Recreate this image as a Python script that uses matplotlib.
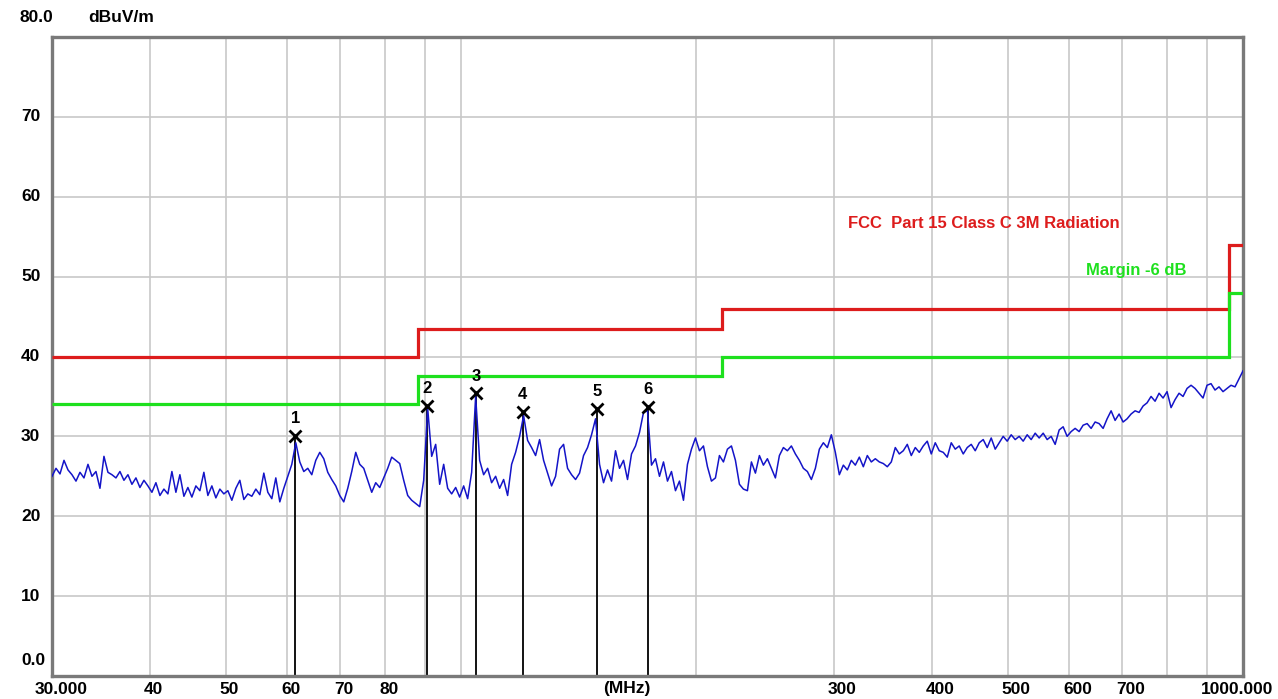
import numpy as np
import matplotlib
matplotlib.use("Agg")
import matplotlib.pyplot as plt
from matplotlib.transforms import offset_copy, blended_transform_factory

plt.rcParams['font.family'] = ['Liberation Sans', 'DejaVu Sans']
plt.rcParams['font.weight'] = 'bold'

f_start, f_stop = 30.0, 1000.0
level = [
    25.0, 26.0, 25.3, 27.0, 25.8, 25.2, 24.4, 25.5, 24.8, 26.5, 25.0, 25.6,
    23.5, 27.5, 25.5, 25.2, 24.8, 25.6, 24.5, 25.2, 24.0, 24.8, 23.6, 24.5,
    23.8, 23.0, 24.2, 22.6, 23.4, 22.8, 25.6, 23.0, 25.2, 22.5, 23.6, 22.4, 23.8,
    23.2, 25.5, 22.6, 23.8, 22.3, 23.4, 22.8, 23.2, 22.0, 23.5, 24.5, 22.1, 22.8,
    22.5, 23.4, 22.7, 25.4, 23.0, 22.2, 24.8, 21.8, 23.5, 25.0, 26.5, 29.2,
    26.8, 25.6, 26.0, 25.2, 27.0, 28.0, 27.2, 25.5, 24.6, 23.8, 22.6, 21.8,
    23.5, 25.6, 28.0, 26.5, 26.0, 24.5, 23.0, 24.2, 23.6, 24.8, 26.0, 27.4,
    27.0, 26.6, 24.5, 22.6, 22.0, 21.6, 21.2, 24.5, 33.5, 27.5, 29.0, 24.0,
    26.5, 23.5, 22.8, 23.6, 22.4, 23.8, 22.2, 25.5, 35.0, 27.0, 25.2, 26.0,
    24.2, 25.0, 23.5, 24.6, 22.6, 26.5, 28.0, 30.0, 32.6, 29.5, 28.6,
    27.6, 29.6, 27.0, 25.4, 23.8, 25.0, 28.4, 29.0, 26.0, 25.2, 24.6, 25.4,
    27.6, 28.6, 30.2, 32.2, 26.5, 24.2, 25.8, 24.4, 28.2, 26.0, 27.0, 24.6,
    27.8, 28.8, 30.5, 33.0, 33.2, 26.4, 27.2, 25.0, 26.8, 24.4, 25.6, 23.2,
    24.4, 22.0, 26.5, 28.4, 29.8, 28.2, 28.8, 26.2, 24.4, 24.8, 27.6, 26.8,
    28.4, 28.8, 27.0, 24.0, 23.4, 23.2, 26.8, 25.4, 27.6, 26.4, 27.2,
    26.0, 24.8, 27.6, 28.6, 28.2, 28.8, 27.8, 27.0, 26.0, 25.6, 24.6, 26.0,
    28.4, 29.2, 28.6, 30.2, 28.0, 25.2, 26.4, 25.8, 27.0, 26.4, 27.4, 26.2,
    27.6, 26.8, 27.2, 26.8, 26.6, 26.2, 26.8, 28.6, 27.8, 28.2, 29.0, 27.6,
    28.6, 28.0, 28.8, 29.4, 27.8, 29.2, 28.2, 28.0, 27.4, 29.2, 28.4, 28.8,
    27.8, 28.6, 29.0, 28.2, 29.2, 29.6, 28.6, 29.8, 28.4, 29.2, 30.0, 29.4, 30.2,
    29.6, 30.0, 29.4, 30.2, 29.6, 30.4, 29.8, 30.4, 29.6, 30.0, 29.0, 30.8,
    31.2, 30.0, 30.6, 31.0, 30.6, 31.4, 31.6, 31.0, 31.8, 31.6, 31.0, 32.2,
    33.2, 32.0, 32.8, 31.8, 32.2, 32.8, 33.2, 33.0, 33.8, 34.2, 35.0, 34.4,
    35.4, 34.8, 35.6, 33.6, 34.6, 35.4, 35.0, 36.0, 36.4, 36.0, 35.4, 34.8,
    36.4, 36.6, 35.8, 36.2, 35.6, 36.0, 36.4, 36.2, 37.2, 38.2,
]

# limit line (FCC Part 15 class, 3 m) and the -6 dB margin
limit_edges = [30, 88, 216, 960, 1000]
limit_fcc = [40.0, 43.5, 46.0, 54.0]
margin_db = 6.0

# marked peaks
peak_no = ['1', '2', '3', '4', '5', '6']
peak_freq = [61.4, 90.5, 104.6, 119.9, 149.2, 173.5]
peak_level = [30.1, 33.8, 35.4, 33.1, 33.4, 33.7]

xgrid = [40, 50, 60, 70, 80, 90, 100, 200, 300, 400, 500, 600, 700, 800, 900]
ygrid = [10, 20, 30, 40, 50, 60, 70]
xlabels = {40: '40', 50: '50', 60: '60', 70: '70', 80: '80',
           300: '300', 400: '400', 500: '500', 600: '600', 700: '700'}
ylabels = ['10', '20', '30', '40', '50', '60', '70']

freq = np.geomspace(f_start, f_stop, len(level))

fig = plt.figure(figsize=(12.78, 6.99), dpi=100)
ax = fig.add_axes([52/1278, 23/699, 1191/1278, 639/699])
ax.set_xscale('log')
ax.set_xlim(f_start, f_stop)
ax.set_ylim(0, 80)

for g in xgrid:
    ax.axvline(g, color='#c8c8c8', lw=1.2, zorder=0)
for g in ygrid:
    ax.axhline(g, color='#c8c8c8', lw=1.2, zorder=0)

ax.set_xticks([])
ax.set_yticks([])
ax.minorticks_off()
for s in ax.spines.values():
    s.set_color('#7a7a7a')
    s.set_linewidth(2.4)

red = '#dd1c1c'
green = '#1ee01e'
ax.stairs(limit_fcc, limit_edges, baseline=None, color=red, lw=2.3, zorder=3)
ax.stairs(np.array(limit_fcc) - margin_db, limit_edges, baseline=None,
          color=green, lw=2.3, zorder=3)

# peak markers: vertical line down to the axis, X and number
for f, lv in zip(peak_freq, peak_level):
    ax.plot([f, f], [0, lv], color='black', lw=1.3, zorder=2)

ax.plot(freq, level, color='#1414c8', lw=1.1, zorder=4)

ax.plot(peak_freq, peak_level, 'x', color='black', ms=9, mew=2, zorder=5)
for n, f, lv in zip(peak_no, peak_freq, peak_level):
    ax.annotate(n, (f, lv), xytext=(0, 7), textcoords='offset points',
                ha='center', va='bottom', fontsize=12, color='black')

fig.text(1120/1278, 1 - 224/699, 'FCC  Part 15 Class C 3M Radiation', color=red,
         fontsize=12, ha='right', va='center')
fig.text(1186/1278, 1 - 271/699, 'Margin -6 dB', color=green,
         fontsize=12, ha='right', va='center')

# y labels, left aligned near the figure edge
ytr = ax.get_yaxis_transform()
for lab in ylabels:
    ax.text(-31/1191, float(lab), lab, transform=ytr, ha='left', va='center',
            fontsize=12.5)
ax.text(-31/1191, 1.9, '0.0', transform=ytr, ha='left', va='center',
        fontsize=12.5)
fig.text(19/1278, 1 - 18/699, '80.0', ha='left', va='center', fontsize=12.5)
fig.text(88/1278, 1 - 18/699, 'dBuV/m', ha='left', va='center', fontsize=12.5)

# x labels, below the frame
ylab = 10/699
xtr = offset_copy(blended_transform_factory(ax.transData, fig.transFigure),
                  fig=fig, x=-6, y=0, units='dots')
for f, lab in xlabels.items():
    ax.text(f, ylab, lab, transform=xtr, ha='left', va='center', fontsize=12.5)
fig.text(35/1278, ylab, '30.000', ha='left', va='center', fontsize=12.5)
fig.text(1273/1278, ylab, '1000.000', ha='right', va='center', fontsize=12.5)
fig.text(627/1278, ylab, '(MHz)', ha='center', va='center', fontsize=12.5)

fig.savefig('out.png', dpi=100, facecolor='white')
